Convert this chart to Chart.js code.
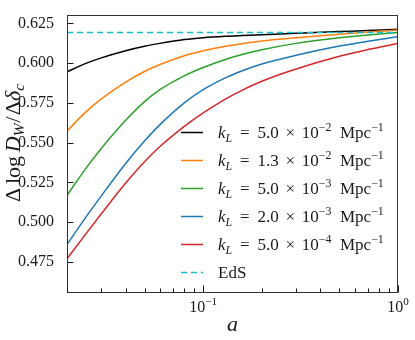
<!DOCTYPE html>
<html>
<head>
<meta charset="utf-8">
<script src="https://cdn.jsdelivr.net/npm/chart.js@4"></script>
<style>
  html, body { margin: 0; padding: 0; background: #fff; }
  #chart { display: block; }
</style>
</head>
<body>
<canvas id="chart" width="415" height="340"></canvas>
<script>
// scale factor a
const aVals = [0.02, 0.025, 0.03, 0.04, 0.05, 0.06, 0.08, 0.1, 0.13, 0.16, 0.2, 0.3, 0.5, 0.7, 1.0];

// Delta log D_W / Delta delta_c for each k_L
const kL_5e2  = [0.5945, 0.5998, 0.6033, 0.6078, 0.6106, 0.6124, 0.6148, 0.6160, 0.6169, 0.6174, 0.6179, 0.6187, 0.6198, 0.6205, 0.6213];
const kL_13e2 = [0.5572, 0.5693, 0.5775, 0.5881, 0.5947, 0.5991, 0.6046, 0.6077, 0.6106, 0.6123, 0.6139, 0.6159, 0.6182, 0.6195, 0.6208];
const kL_5e3  = [0.5168, 0.5338, 0.5463, 0.5640, 0.5758, 0.5833, 0.5920, 0.5972, 0.6023, 0.6055, 0.6084, 0.6124, 0.6160, 0.6177, 0.6193];
const kL_2e3  = [0.4858, 0.5031, 0.5165, 0.5369, 0.5510, 0.5613, 0.5750, 0.5833, 0.5907, 0.5953, 0.5994, 0.6049, 0.6107, 0.6137, 0.6165];
const kL_5e4  = [0.4769, 0.4926, 0.5052, 0.5246, 0.5380, 0.5475, 0.5602, 0.5687, 0.5774, 0.5832, 0.5886, 0.5963, 0.6043, 0.6085, 0.6124];

// Einstein-de Sitter reference
const edsA = [0.02, 1.0];
const edsVals = [0.6193, 0.6193];

// legend text pieces
const kMant = ['5.0', '1.3', '5.0', '2.0', '5.0'];
const kExp = ['\u22122', '\u22122', '\u22123', '\u22123', '\u22124'];

const yTicks = [0.475, 0.500, 0.525, 0.550, 0.575, 0.600, 0.625];
const xTicks = [0.02, 0.03, 0.04, 0.05, 0.06, 0.07, 0.08, 0.09, 0.1,
                0.2, 0.3, 0.4, 0.5, 0.6, 0.7, 0.8, 0.9, 1.0];
const xLabelTicks = [0.1, 1.0];
const xLabelExp = ['\u22121', '0'];

const FONT = '"Liberation Serif", "DejaVu Serif", serif';
const INK = '#1a1a1a';

const series = [kL_5e2, kL_13e2, kL_5e3, kL_2e3, kL_5e4];
const colors = ['#000000', '#ff7f0e', '#2ca02c', '#1f77b4', '#d62728'];

function kLabel(i) {
  return [
    {t: 'k', it: true}, {t: 'L', it: true, sub: true},
    {t: '=', gap: 0.46}, {t: kMant[i], gap: 0.46},
    {t: '\u00d7', gap: 0.4}, {t: '10', gap: 0.4}, {t: kExp[i], sup: true},
    {t: 'Mpc', gap: 0.5}, {t: '\u22121', sup: true},
  ];
}

function partFont(p, size) {
  const s = (p.sub || p.sup) ? size * 0.7 : size;
  return (p.it ? 'italic ' : '') + s + 'px ' + FONT;
}

function richWidth(ctx, parts, size) {
  let w = 0;
  for (const p of parts) {
    ctx.font = partFont(p, size);
    w += (p.gap || 0) * size + ctx.measureText(p.t).width;
  }
  return w;
}

function drawRich(ctx, parts, x, y, size, subDrop = 0.22) {
  let cx = x;
  for (const p of parts) {
    ctx.font = partFont(p, size);
    cx += (p.gap || 0) * size;
    const dy = p.sup ? -0.42 * size : (p.sub ? subDrop * size : 0);
    ctx.fillText(p.t, cx, y + dy);
    cx += ctx.measureText(p.t).width;
  }
}

const datasets = series.map((vals, i) => ({
  label: 'k_L = ' + kMant[i] + ' x 10^' + kExp[i] + ' Mpc^-1',
  data: aVals.map((a, j) => ({x: a, y: vals[j]})),
  borderColor: colors[i],
  backgroundColor: colors[i],
  order: 6 - i,
}));
datasets.push({
  label: 'EdS',
  data: edsA.map((a, j) => ({x: a, y: edsVals[j]})),
  borderColor: '#17becf',
  backgroundColor: '#17becf',
  borderDash: [6, 4],
  order: 0,
});

const decor = {
  id: 'decor',
  afterDraw(chart) {
    const {ctx, chartArea: ca} = chart;
    const xs = chart.scales.x, ys = chart.scales.y;
    ctx.save();

    // frame
    ctx.strokeStyle = '#333';
    ctx.lineWidth = 1;
    const l = Math.round(ca.left) + 0.5, t = Math.round(ca.top) + 0.5;
    const r = Math.round(ca.right) - 0.5, b = Math.round(ca.bottom) - 0.5;
    ctx.strokeRect(l, t, r - l, b - t);

    // inward ticks
    ctx.strokeStyle = INK;
    ctx.beginPath();
    for (const v of yTicks) {
      const py = Math.round(ys.getPixelForValue(v)) + 0.5;
      ctx.moveTo(l, py); ctx.lineTo(l + 6, py);
    }
    for (const v of xTicks) {
      const px = Math.round(xs.getPixelForValue(v)) + 0.5;
      const major = Math.abs(Math.log10(v) - Math.round(Math.log10(v))) < 1e-9;
      ctx.moveTo(px, b); ctx.lineTo(px, b - (major ? 7 : 4));
    }
    ctx.stroke();

    ctx.fillStyle = INK;
    ctx.textBaseline = 'alphabetic';
    ctx.textAlign = 'left';

    // x tick labels 10^n
    xLabelTicks.forEach((v, i) => {
      const parts = [{t: '10'}, {t: xLabelExp[i], sup: true}];
      const w = richWidth(ctx, parts, 16);
      drawRich(ctx, parts, xs.getPixelForValue(v) - w / 2, ca.bottom + 19, 16);
    });

    // x title
    const ax = [{t: 'a', it: true}];
    const aw = richWidth(ctx, ax, 22);
    drawRich(ctx, ax, (ca.left + ca.right) / 2 - aw / 2, 331, 22);

    // y title
    const yl = [
      {t: '\u0394'}, {t: 'log', gap: 0.17}, {t: 'D', it: true, gap: 0.17},
      {t: 'W', it: true, sub: true}, {t: '/', gap: 0.05}, {t: '\u0394', gap: 0.05},
      {t: '\u03b4', it: true}, {t: 'c', it: true, sub: true},
    ];
    const yw = richWidth(ctx, yl, 22);
    ctx.save();
    ctx.translate(20, 143);
    ctx.rotate(-Math.PI / 2);
    drawRich(ctx, yl, -yw / 2, 0, 22, 0.16);
    ctx.restore();

    // legend
    const rowH = 28;
    const n = chart.data.datasets.length;
    const x0 = ca.right - 217;
    chart.data.datasets.forEach((ds, i) => {
      const cy = ca.bottom - 20.5 - (n - 1 - i) * rowH;
      ctx.save();
      ctx.strokeStyle = ds.borderColor;
      ctx.lineWidth = 1.5;
      ctx.setLineDash(ds.borderDash || []);
      ctx.beginPath();
      ctx.moveTo(x0, cy); ctx.lineTo(x0 + 22, cy);
      ctx.stroke();
      ctx.restore();
      const parts = i < series.length ? kLabel(i) : [{t: 'EdS'}];
      drawRich(ctx, parts, x0 + 37, cy + 5.5, 17);
    });

    ctx.restore();
  }
};

new Chart(document.getElementById('chart'), {
  type: 'line',
  data: {datasets},
  options: {
    responsive: false,
    animation: false,
    layout: {padding: {top: 5, right: 17, left: 0, bottom: 0}},
    elements: {
      point: {radius: 0},
      line: {borderWidth: 1.5, cubicInterpolationMode: 'monotone', fill: false},
    },
    plugins: {legend: {display: false}, tooltip: {enabled: false}},
    scales: {
      x: {
        type: 'logarithmic',
        min: 0.02,
        max: 1,
        afterBuildTicks: (s) => { s.ticks = xTicks.map(v => ({value: v})); },
        afterFit: (s) => { s.height = 47; },
        ticks: {display: false},
        grid: {display: false},
        border: {display: false},
      },
      y: {
        min: 0.4554,
        max: 0.6305,
        afterBuildTicks: (s) => { s.ticks = yTicks.map(v => ({value: v})); },
        afterFit: (s) => { s.width = 67; },
        ticks: {
          color: INK,
          padding: 5,
          font: {family: FONT, size: 16},
          callback: (v) => v.toFixed(3),
        },
        grid: {display: false},
        border: {display: false},
      },
    },
  },
  plugins: [decor],
});
</script>
</body>
</html>
